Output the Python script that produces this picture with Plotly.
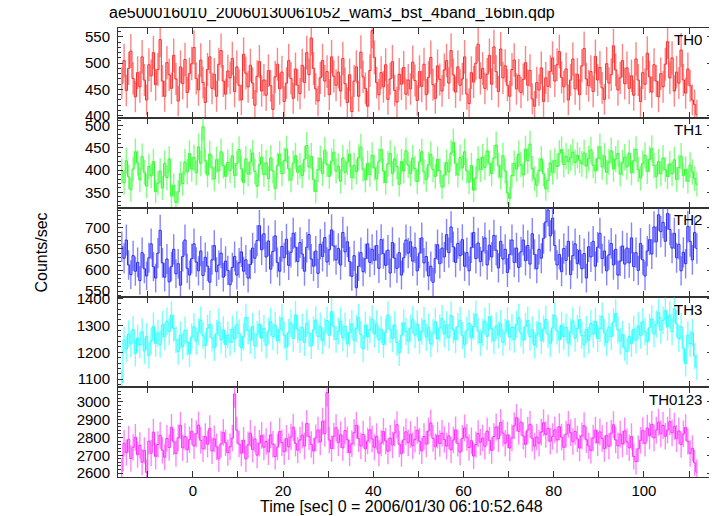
import plotly.graph_objects as go
from plotly.subplots import make_subplots
import numpy as np

# ---- data (count rates, counts/sec, 0.5 s bins) ----
bin_start = -16.0
bin_width = 0.5

th0 = [462, 505, 448, 490, 523, 471, 436, 482, 455, 512, 468, 430, 497, 476, 520, 459,
       488, 545, 466, 437, 501, 478, 452, 515, 470, 428, 493, 461, 507, 444, 480, 499,
       530, 471, 449, 506, 463, 425, 488, 512, 452, 479, 437, 498, 524, 466, 441, 485,
       472, 509, 446, 493, 458, 430, 517, 481, 455, 496, 462, 420, 475, 503, 447, 468,
       439, 486, 457, 412, 474, 498, 451, 483, 427, 462, 505, 471, 433, 489, 458, 442,
       496, 463, 520, 478, 548, 490, 451, 428, 472, 505, 466, 484, 440, 512, 475, 458,
       483, 447, 509, 461, 425, 478, 408, 466, 493, 437, 521, 474, 452, 418, 486, 562,
       511, 463, 440, 482, 455, 497, 431, 470, 503, 448, 426, 479, 460, 492, 441, 468,
       451, 502, 467, 429, 484, 456, 498, 440, 473, 511, 459, 433, 495, 469, 447, 487,
       505, 462, 524, 478, 445, 493, 458, 470, 512, 441, 423, 482, 464, 500, 536, 471,
       490, 452, 479, 515, 460, 531, 484, 446, 527, 472, 495, 458, 437, 488, 506, 451,
       477, 444, 469, 501, 458, 486, 432, 418, 463, 449, 491, 427, 472, 456, 484, 510,
       466, 497, 522, 473, 455, 489, 430, 468, 508, 451, 479, 440, 495, 528, 470, 457,
       484, 446, 513, 468, 492, 453, 431, 499, 462, 478, 533, 487, 449, 472, 505, 461,
       491, 452, 476, 439, 508, 468, 427, 482, 460, 519, 474, 445, 497, 466, 436, 480,
       455, 498, 541, 472, 510, 447, 483, 462, 525, 468, 443, 489, 457, 430, 421, 402]

th1 = [398, 372, 421, 385, 356, 402, 441, 416, 378, 430, 395, 364, 408, 387, 419, 352,
       371, 398, 360, 415, 383, 425, 342, 366, 328, 351, 392, 370, 418, 396, 437, 402,
       428, 394, 452, 415, 497, 421, 389, 436, 405, 380, 423, 398, 441, 410, 386, 417,
       399, 432, 388, 415, 446, 403, 372, 425, 391, 418, 438, 397, 364, 412, 429, 390,
       416, 381, 427, 398, 359, 410, 436, 392, 421, 447, 403, 378, 415, 432, 395, 409,
       388, 424, 455, 407, 431, 379, 352, 401, 426, 392, 444, 413, 386, 420, 440, 398,
       409, 375, 427, 395, 418, 436, 383, 410, 396, 428, 451, 402, 378, 415, 390, 433,
       405, 381, 420, 446, 398, 372, 414, 437, 392, 425, 408, 368, 419, 398, 443, 411,
       392, 427, 403, 374, 418, 441, 396, 379, 412, 435, 401, 386, 424, 398, 362, 389,
       417, 396, 438, 462, 415, 389, 428, 405, 441, 398, 373, 410, 355, 382, 424, 401,
       429, 406, 443, 415, 392, 427, 456, 410, 384, 432, 398, 349, 337, 388, 415, 402,
       436, 412, 389, 447, 421, 458, 403, 381, 366, 399, 425, 392, 358, 377, 416, 395,
       421, 408, 437, 446, 412, 431, 419, 428, 440, 417, 433, 422, 414, 438, 409, 426,
       445, 411, 398, 426, 452, 407, 431, 395, 418, 443, 402, 425, 437, 391, 416, 429,
       407, 438, 394, 421, 446, 401, 382, 415, 433, 397, 424, 448, 410, 386, 419, 392,
       427, 401, 385, 414, 392, 423, 379, 406, 431, 388, 402, 375, 411, 396, 381, 368]

th2 = [655, 628, 671, 612, 589, 634, 597, 618, 575, 641, 603, 586, 629, 662, 608, 581,
       640, 694, 617, 583, 626, 572, 608, 649, 591, 615, 564, 632, 671, 604, 588, 627,
       662, 619, 598, 645, 587, 630, 609, 571, 624, 658, 596, 612, 640, 583, 621, 599,
       565, 606, 632, 588, 617, 643, 597, 624, 581, 613, 652, 628, 670, 705, 648, 686,
       631, 669, 602, 644, 681, 618, 597, 656, 629, 673, 611, 642, 687, 654, 620, 665,
       638, 597, 654, 684, 626, 609, 645, 592, 661, 632, 677, 619, 648, 695, 657, 624,
       651, 612, 689, 643, 667, 620, 585, 634, 558, 609, 641, 596, 627, 662, 618, 649,
       623, 658, 604, 672, 639, 611, 647, 593, 665, 628, 604, 641, 588, 629, 671, 640,
       667, 621, 653, 598, 640, 676, 617, 632, 586, 609, 571, 627, 660, 615, 652, 631,
       684, 641, 702, 655, 618, 663, 634, 672, 609, 641, 598, 653, 689, 627, 664, 620,
       645, 676, 612, 659, 631, 682, 647, 605, 668, 626, 649, 594, 637, 671, 618, 652,
       606, 643, 671, 622, 658, 614, 686, 637, 603, 649, 628, 675, 714, 742, 681, 723,
       658, 612, 637, 596, 651, 623, 668, 589, 634, 662, 615, 647, 603, 639, 581, 655,
       631, 668, 609, 654, 687, 627, 645, 598, 636, 663, 612, 649, 588, 621, 657, 614,
       652, 617, 676, 608, 641, 599, 663, 624, 586, 645, 672, 638, 702, 667, 731, 691,
       713, 668, 734, 696, 652, 687, 629, 661, 598, 642, 615, 703, 668, 624, 689, 651]

th3 = [1088, 1245, 1212, 1268, 1231, 1284, 1196, 1253, 1227, 1276, 1205, 1259, 1188, 1242, 1297, 1233,
       1271, 1229, 1302, 1258, 1315, 1277, 1338, 1289, 1246, 1203, 1264, 1222, 1281, 1238, 1194, 1257,
       1295, 1241, 1276, 1318, 1262, 1225, 1289, 1304, 1253, 1217, 1270, 1312, 1246, 1283, 1228, 1264,
       1237, 1286, 1249, 1302, 1271, 1216, 1258, 1329, 1281, 1243, 1296, 1224, 1267, 1305, 1252, 1288,
       1226, 1279, 1314, 1258, 1301, 1242, 1285, 1327, 1263, 1219, 1274, 1308, 1251, 1339, 1286, 1247,
       1292, 1236, 1308, 1271, 1224, 1283, 1320, 1259, 1297, 1242, 1276, 1318, 1263, 1351, 1295, 1248,
       1279, 1316, 1254, 1297, 1231, 1273, 1306, 1245, 1288, 1329, 1266, 1212, 1301, 1257, 1284, 1323,
       1268, 1305, 1247, 1286, 1229, 1275, 1338, 1284, 1251, 1302, 1236, 1198, 1263, 1309, 1277, 1242,
       1289, 1321, 1264, 1305, 1243, 1278, 1317, 1256, 1293, 1231, 1272, 1314, 1249, 1290, 1325, 1268,
       1302, 1255, 1337, 1284, 1246, 1295, 1319, 1262, 1228, 1281, 1307, 1253, 1296, 1341, 1278, 1236,
       1274, 1315, 1259, 1332, 1287, 1243, 1298, 1264, 1306, 1237, 1275, 1317, 1256, 1292, 1248, 1303,
       1329, 1271, 1245, 1296, 1318, 1257, 1283, 1226, 1265, 1309, 1243, 1286, 1322, 1267, 1233, 1291,
       1336, 1279, 1246, 1301, 1259, 1293, 1234, 1275, 1316, 1252, 1288, 1321, 1262, 1229, 1285, 1244,
       1307, 1268, 1315, 1251, 1289, 1333, 1272, 1236, 1294, 1258, 1312, 1345, 1283, 1241, 1266, 1218,
       1203, 1259, 1232, 1286, 1245, 1298, 1263, 1314, 1277, 1239, 1291, 1324, 1268, 1305, 1347, 1282,
       1319, 1356, 1294, 1338, 1277, 1362, 1306, 1251, 1295, 1215, 1158, 1264, 1232, 1273, 1186, 1145]

th0123 = [2612, 2768, 2715, 2790, 2682, 2745, 2801, 2703, 2756, 2661, 2728, 2604, 2779, 2712, 2830, 2694,
          2761, 2812, 2728, 2689, 2795, 2744, 2857, 2776, 2710, 2798, 2869, 2742, 2806, 2731, 2788, 2835,
          2753, 2821, 2870, 2784, 2736, 2806, 2762, 2850, 2725, 2793, 2748, 2681, 2764, 2829, 2771, 2715,
          2748, 2797, 3045, 2841, 2763, 2712, 2785, 2680, 2759, 2824, 2733, 2792, 2701, 2768, 2812, 2746,
          2778, 2719, 2815, 2762, 2693, 2746, 2834, 2771, 2720, 2795, 2748, 2803, 2858, 2767, 2729, 2786,
          2813, 2752, 2879, 2806, 2761, 2724, 2798, 2842, 2775, 2891, 2823, 3052, 2786, 2738, 2807, 2855,
          2771, 2816, 2742, 2839, 2788, 2714, 2765, 2827, 2869, 2794, 2753, 2818, 2736, 2781, 2843, 2792,
          2745, 2806, 2712, 2769, 2834, 2781, 2723, 2797, 2758, 2826, 2872, 2763, 2709, 2787, 2832, 2771,
          2818, 2754, 2790, 2841, 2779, 2725, 2806, 2763, 2837, 2882, 2795, 2748, 2813, 2766, 2824, 2789,
          2752, 2809, 2731, 2786, 2843, 2767, 2718, 2795, 2854, 2801, 2744, 2782, 2696, 2760, 2822, 2773,
          2797, 2751, 2836, 2784, 2727, 2806, 2859, 2793, 2885, 2824, 2768, 2815, 2741, 2798, 2866, 2912,
          2835, 2887, 2809, 2761, 2842, 2874, 2796, 2751, 2803, 2768, 2831, 2883, 2817, 2852, 2779, 2806,
          2843, 2786, 2861, 2802, 2745, 2819, 2874, 2827, 2778, 2834, 2792, 2741, 2809, 2866, 2788, 2753,
          2728, 2797, 2842, 2769, 2831, 2795, 2738, 2812, 2751, 2824, 2872, 2786, 2754, 2819, 2763, 2837,
          2776, 2742, 2806, 2693, 2665, 2737, 2784, 2839, 2767, 2853, 2809, 2874, 2798, 2842, 2886, 2821,
          2868, 2807, 2842, 2889, 2826, 2863, 2794, 2837, 2761, 2820, 2856, 2778, 2711, 2739, 2658, 2605]

band_names = ["TH0", "TH1", "TH2", "TH3", "TH0123"]
band_rates = [th0, th1, th2, th3, th0123]
band_colors = ["#ff2a2a", "#2aff2a", "#2a2aff", "#2affff", "#ff2aff"]
err_colors = ["rgba(255,50,50,0.6)", "rgba(50,255,50,0.6)", "rgba(50,50,255,0.6)",
              "rgba(50,255,255,0.65)", "rgba(255,50,255,0.6)"]
y_ranges = [[396, 567], [316, 517], [535, 748], [1070, 1404], [2578, 3083]]
y_dticks = [50, 50, 50, 100, 100]
y_minor = [10, 10, 10, 20, 20]

title_text = "ae500016010_20060130061052_wam3_bst_4band_16bin.qdp"
x_title = "Time [sec] 0 = 2006/01/30 06:10:52.648"
y_title = "Counts/sec"

FONT = "Liberation Sans, Arial, Helvetica, sans-serif"
AXC = "#333333"

fig = make_subplots(rows=5, cols=1, shared_xaxes=True, vertical_spacing=0)

for i, (name, rate) in enumerate(zip(band_names, band_rates)):
    r = np.array(rate, dtype=float)
    t = bin_start + bin_width * (np.arange(len(r)) + 0.5)
    err = np.sqrt(r * bin_width) / bin_width
    fig.add_trace(go.Scatter(
        x=t, y=r, mode="lines", line=dict(color=band_colors[i], width=1, shape="hvh"),
        error_y=dict(type="data", array=err, width=0, thickness=1.4, color=err_colors[i]),
        showlegend=False, hoverinfo="skip"), row=i + 1, col=1)
    fig.update_yaxes(range=y_ranges[i], dtick=y_dticks[i], row=i + 1, col=1)
    fig.update_yaxes(minor=dict(dtick=y_minor[i], ticks="inside", ticklen=3,
                                tickcolor=AXC, tickwidth=1), row=i + 1, col=1)
    fig.add_annotation(text=name, xref="x domain", yref="y domain" if i == 0 else f"y{i+1} domain",
                       x=0.986, y=0.985, xanchor="right", yanchor="top", showarrow=False,
                       font=dict(family=FONT, size=15, color="black"), row=i + 1, col=1)

fig.update_xaxes(range=[-16.6, 115.1], dtick=20, tick0=0, ticks="inside", ticklen=6,
                 tickcolor=AXC, tickwidth=1,
                 minor=dict(dtick=10, ticks="inside", ticklen=6, tickcolor=AXC, tickwidth=1),
                 showline=True, linecolor=AXC, linewidth=1, mirror="ticks",
                 showgrid=False, zeroline=False,
                 tickfont=dict(family=FONT, size=15, color="black"))
fig.update_yaxes(ticks="inside", ticklen=5, tickcolor=AXC, tickwidth=1,
                 showline=True, linecolor=AXC, linewidth=1, mirror="ticks",
                 showgrid=False, zeroline=False, ticklabelstandoff=4,
                 tickfont=dict(family=FONT, size=15, color="black"))

fig.add_annotation(text=title_text, xref="paper", yref="paper", x=-0.0185, y=1.0334,
                   xanchor="left", yanchor="middle", showarrow=False,
                   font=dict(family=FONT, size=16, color="black"))
fig.add_annotation(text=x_title, xref="paper", yref="paper", x=0.478, y=0,
                   xanchor="center", yanchor="top", yshift=-19, showarrow=False,
                   font=dict(family=FONT, size=16, color="black"))
fig.add_annotation(text=y_title, xref="paper", yref="paper", x=0, y=0.5,
                   xanchor="center", yanchor="middle", xshift=-77, textangle=-90,
                   showarrow=False, font=dict(family=FONT, size=16, color="black"))

# the page body adds an 8 px margin, so the figure is 16 px smaller than the window
fig.update_layout(width=709, height=508, margin=dict(l=110, r=5, t=20, b=39),
                  paper_bgcolor="white", plot_bgcolor="white")

fig.write_html("out.html")
